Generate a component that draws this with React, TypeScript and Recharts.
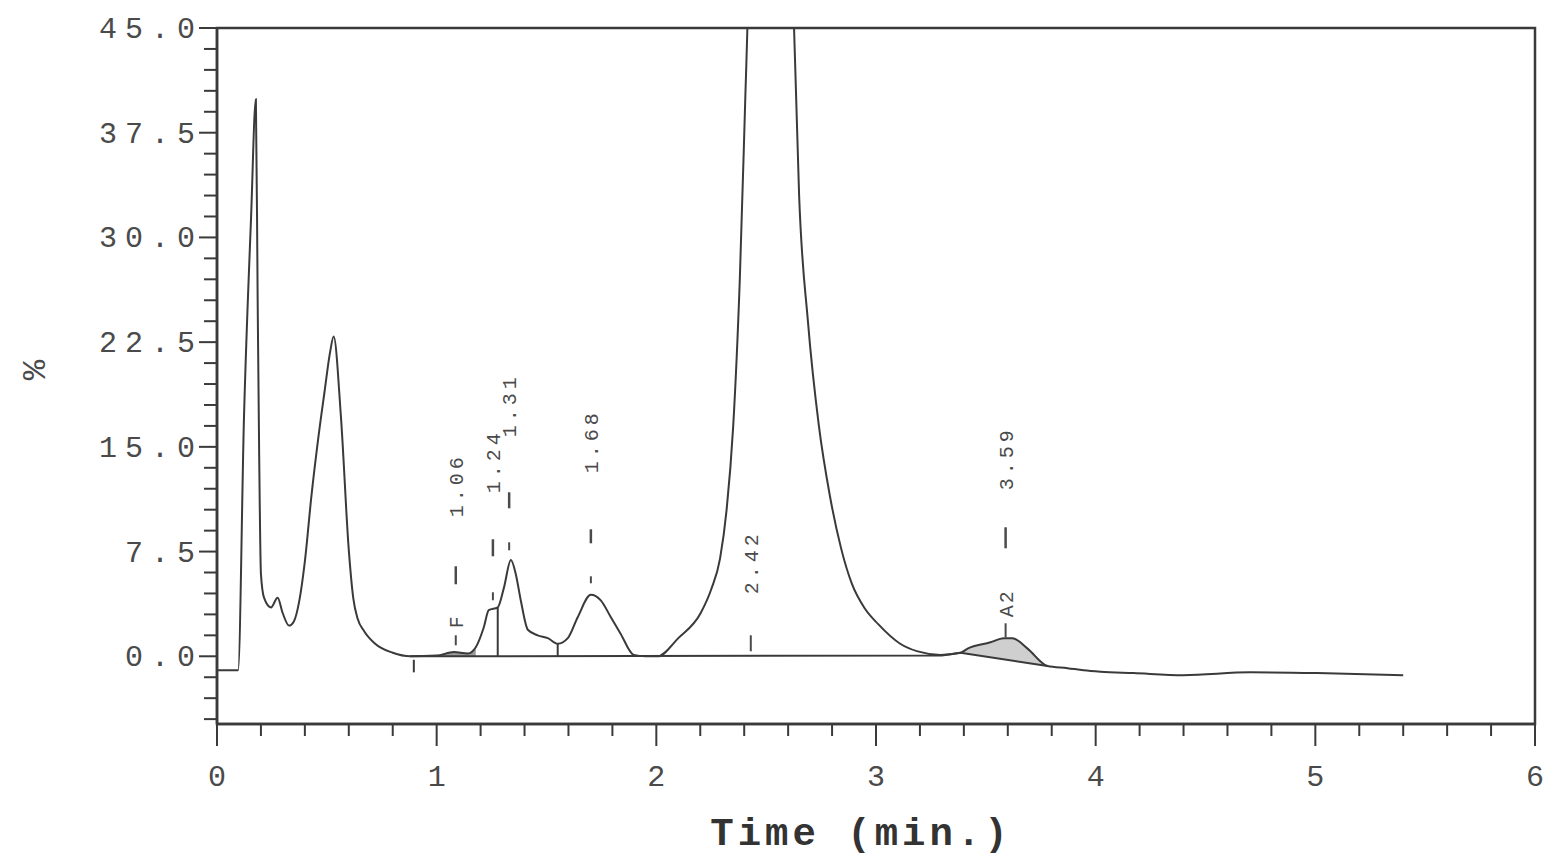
import {
  ComposedChart,
  Line,
  Area,
  XAxis,
  YAxis,
  ReferenceArea,
  ReferenceLine,
  ReferenceDot,
} from 'recharts'

const MONO = "'Liberation Mono', 'Courier New', monospace"
const INK = '#3a3a3a'
const TEXT = '#4a4a4a'

// detector trace: retention time (min) and response (%)
const times = [
  0, 0.05, 0.096, 0.123, 0.155, 0.177, 0.185, 0.192, 0.2, 0.214, 0.246, 0.276, 0.299, 0.328,
  0.35, 0.375, 0.4, 0.43, 0.46, 0.49, 0.515, 0.531, 0.564, 0.6, 0.62, 0.64, 0.67, 0.72, 0.8,
  0.88, 1.0, 1.078, 1.142,
  1.178, 1.215, 1.237, 1.278, 1.306, 1.338, 1.36, 1.383, 1.415, 1.46, 1.506, 1.551, 1.597,
  1.642, 1.702, 1.747, 1.793, 1.838, 1.897, 1.95, 2.006, 2.1, 2.202, 2.25, 2.29, 2.32,
  2.35, 2.38, 2.405, 2.42, 2.45, 2.52, 2.59, 2.625, 2.65, 2.69, 2.74, 2.79, 2.84, 2.89,
  2.95, 3.01, 3.11, 3.19, 3.294, 3.385, 3.417, 3.521, 3.581, 3.621, 3.69, 3.781, 3.872, 3.945,
  4.022, 4.172, 4.4, 4.704, 5.009, 5.4,
]
const signal = [
  -1.0, -1.0, -1.0, 17.2, 31.4, 39.9, 25.7, 14.4, 5.9, 4.2, 3.5, 4.2, 3.1, 2.2,
  2.5, 4.0, 6.8, 11.5, 15.5, 19.0, 21.8, 22.9, 17.2, 7.6, 4.2, 2.7, 1.8, 0.9, 0.25,
  0.0, 0.05, 0.3, 0.2,
  0.65, 2.1, 3.3, 3.5, 4.9, 6.9, 5.9, 4.0, 1.9, 1.5, 1.3, 0.9, 1.3,
  2.8, 4.4, 4.0, 2.8, 1.6, 0.1, 0.0, 0.0, 1.3, 3.1, 4.8, 7.0, 10.5,
  16.5, 27.0, 40.0, 48.0, 75.0, 110.0, 75.0, 46.0, 33.0, 24.0, 16.5, 11.5, 7.8, 5.2,
  3.4, 2.3, 0.9, 0.35, 0.1, 0.25, 0.55, 1.0, 1.3, 1.3, 0.55, -0.7, -0.85, -1.0,
  -1.1, -1.2, -1.35, -1.15, -1.2, -1.35,
]

// integration baseline drawn under the peaks
const baseTimes = [0.88, 3.3, 3.385, 3.781]
const baseValues = [0, 0.05, 0.25, -0.7]

// shaded A2 peak
const a2Times = [3.385, 3.417, 3.521, 3.581, 3.621, 3.69, 3.781]
const a2Top = [0.25, 0.55, 1.0, 1.3, 1.3, 0.55, -0.7]
const a2Base = [0.25, 0.17, -0.08, -0.22, -0.32, -0.48, -0.7]

// small shaded F peak
const fTimes = [1.0, 1.078, 1.142, 1.178]
const fTop = [0.05, 0.3, 0.2, 0.65]

// vertical drop lines (time, top of line)
const dropTimes = [1.278, 1.551]
const dropTops = [3.5, 0.9]

// peak annotations
const peakAt = [1.087, 1.256, 1.33, 1.702, 2.43, 3.59]
const peakText = ['1.06', '1.24', '1.31', '1.68', '2.42', '3.59']
const peakTag = ['F', '', '', '', '', 'A2']

// pixel offsets above the zero line for each annotation
const labelLayout = [
  { text: 139, dash: [72, 90], tag: 35, tick: [11, 21] },
  { text: 163, dash: [100, 117], tag: 0, tick: [56, 64] },
  { text: 219, dash: [148, 164], tag: 0, tick: [106, 114] },
  { text: 183, dash: [113, 127], tag: 0, tick: [73, 80] },
  { text: 62, dash: null, tag: 0, tick: [5, 21] },
  { text: 166, dash: [108, 129], tag: 53, tick: [19, 33] },
]

const Y_MIN = -4.85
const Y_MAX = 45
const yLabelTicks = [0, 7.5, 15, 22.5, 30, 37.5, 45]
const xLabelTicks = [0, 1, 2, 3, 4, 5, 6]
const yTicks = Array.from({ length: 34 }, (_, i) => -4.5 + i * 1.5)
const xTicks = Array.from({ length: 31 }, (_, i) => i / 5)

const trace = times.map((t, i) => ({ t, v: signal[i] }))
const baseline = baseTimes.map((t, i) => ({ t, v: baseValues[i] }))
const a2Area = a2Times.map((t, i) => ({ t, r: [a2Base[i], a2Top[i]] }))
const fArea = fTimes.map((t, i) => ({ t, r: [0, fTop[i]] }))

function YTick(props: any) {
  const { x, y, payload } = props
  const major = yLabelTicks.some((v) => Math.abs(v - payload.value) < 1e-6)
  const len = major ? 18 : 13
  return (
    <g>
      <line x1={x - len} x2={x} y1={y} y2={y} stroke={INK} strokeWidth={2} />
      {major && (
        <text
          x={x - 14}
          y={y}
          dy={10}
          textAnchor="end"
          fill={TEXT}
          fontFamily={MONO}
          fontSize={30}
          letterSpacing={8}
        >
          {payload.value.toFixed(1)}
        </text>
      )}
    </g>
  )
}

function XTick(props: any) {
  const { x, y, payload } = props
  const major = xLabelTicks.some((v) => Math.abs(v - payload.value) < 1e-6)
  const len = major ? 22 : 12
  return (
    <g>
      <line x1={x} x2={x} y1={y} y2={y + len} stroke={INK} strokeWidth={2} />
      {major && (
        <text x={x} y={y + 62} textAnchor="middle" fill={TEXT} fontFamily={MONO} fontSize={30}>
          {String(payload.value)}
        </text>
      )}
    </g>
  )
}

function peakMarker(i: number) {
  const lay = labelLayout[i]
  return (props: any) => {
    const { cx, cy } = props
    const ty = cy - lay.text
    return (
      <g>
        <line x1={cx} x2={cx} y1={cy - lay.tick[0]} y2={cy - lay.tick[1]} stroke={TEXT} strokeWidth={2} />
        {lay.dash && (
          <line x1={cx} x2={cx} y1={cy - lay.dash[0]} y2={cy - lay.dash[1]} stroke={TEXT} strokeWidth={2.5} />
        )}
        {peakTag[i] && (
          <text
            x={cx}
            y={cy - lay.tag}
            transform={`rotate(-90 ${cx} ${cy - lay.tag})`}
            textAnchor="middle"
            dy={7}
            fill={TEXT}
            fontFamily={MONO}
            fontSize={20}
            letterSpacing={2}
          >
            {peakTag[i]}
          </text>
        )}
        <text
          x={cx}
          y={ty}
          transform={`rotate(-90 ${cx} ${ty})`}
          textAnchor="start"
          dy={7}
          fill={TEXT}
          fontFamily={MONO}
          fontSize={20}
          letterSpacing={4}
        >
          {peakText[i]}
        </text>
      </g>
    )
  }
}

export default function App() {
  return (
    <div style={{ width: 1548, height: 856, background: '#fff' }}>
      <style>{'body{margin:0;background:#fff}'}</style>
      <ComposedChart width={1548} height={856} margin={{ top: 28, right: 13, bottom: 0, left: 0 }}>
        <XAxis
          type="number"
          dataKey="t"
          domain={[0, 6]}
          ticks={xTicks}
          interval={0}
          allowDataOverflow
          height={132}
          tickSize={0}
          tickMargin={0}
          tickLine={false}
          axisLine={{ stroke: INK, strokeWidth: 2.5 }}
          tick={<XTick />}
          label={{
            content: (p: any) => {
              const vb = p.viewBox
              return (
                <text
                  x={vb.x + vb.width / 2 - 15}
                  y={vb.y + 121}
                  textAnchor="middle"
                  fill="#333"
                  fontFamily={MONO}
                  fontSize={39}
                  fontWeight="bold"
                  letterSpacing={4}
                >
                  Time (min.)
                </text>
              )
            },
          }}
        />
        <YAxis
          type="number"
          domain={[Y_MIN, Y_MAX]}
          ticks={yTicks}
          interval={0}
          allowDataOverflow
          width={217}
          tickSize={0}
          tickMargin={0}
          tickLine={false}
          axisLine={{ stroke: INK, strokeWidth: 2.5 }}
          tick={<YTick />}
          label={{
            content: (p: any) => {
              const vb = p.viewBox
              const lx = vb.x + 34
              const ly = vb.y + vb.height / 2 - 6
              return (
                <text
                  x={lx}
                  y={ly}
                  transform={`rotate(-90 ${lx} ${ly})`}
                  textAnchor="middle"
                  dy={11}
                  fill={TEXT}
                  fontFamily={MONO}
                  fontSize={34}
                >
                  %
                </text>
              )
            },
          }}
        />
        <ReferenceArea x1={0} x2={6} y1={Y_MIN} y2={Y_MAX} fill="none" stroke={INK} strokeWidth={2.5} />
        <Area
          data={fArea}
          dataKey="r"
          type="monotone"
          stroke="none"
          fill="#9a9a9a"
          fillOpacity={1}
          isAnimationActive={false}
        />
        <Area
          data={a2Area}
          dataKey="r"
          type="linear"
          stroke="none"
          fill="#cfcfcf"
          fillOpacity={1}
          isAnimationActive={false}
        />
        <Line
          data={baseline}
          dataKey="v"
          type="linear"
          stroke={INK}
          strokeWidth={2}
          dot={false}
          isAnimationActive={false}
        />
        <Line
          data={trace}
          dataKey="v"
          type="monotone"
          stroke={INK}
          strokeWidth={2}
          dot={false}
          isAnimationActive={false}
        />
        {dropTimes.map((t, i) => (
          <ReferenceLine
            key={'d' + i}
            segment={[
              { x: t, y: 0 },
              { x: t, y: dropTops[i] },
            ]}
            stroke={INK}
            strokeWidth={2}
          />
        ))}
        <ReferenceLine
          segment={[
            { x: 0.896, y: -0.25 },
            { x: 0.896, y: -1.15 },
          ]}
          stroke={INK}
          strokeWidth={2}
        />
        {peakAt.map((t, i) => (
          <ReferenceDot key={'p' + i} x={t} y={0} r={0} shape={peakMarker(i)} />
        ))}
      </ComposedChart>
    </div>
  )
}
